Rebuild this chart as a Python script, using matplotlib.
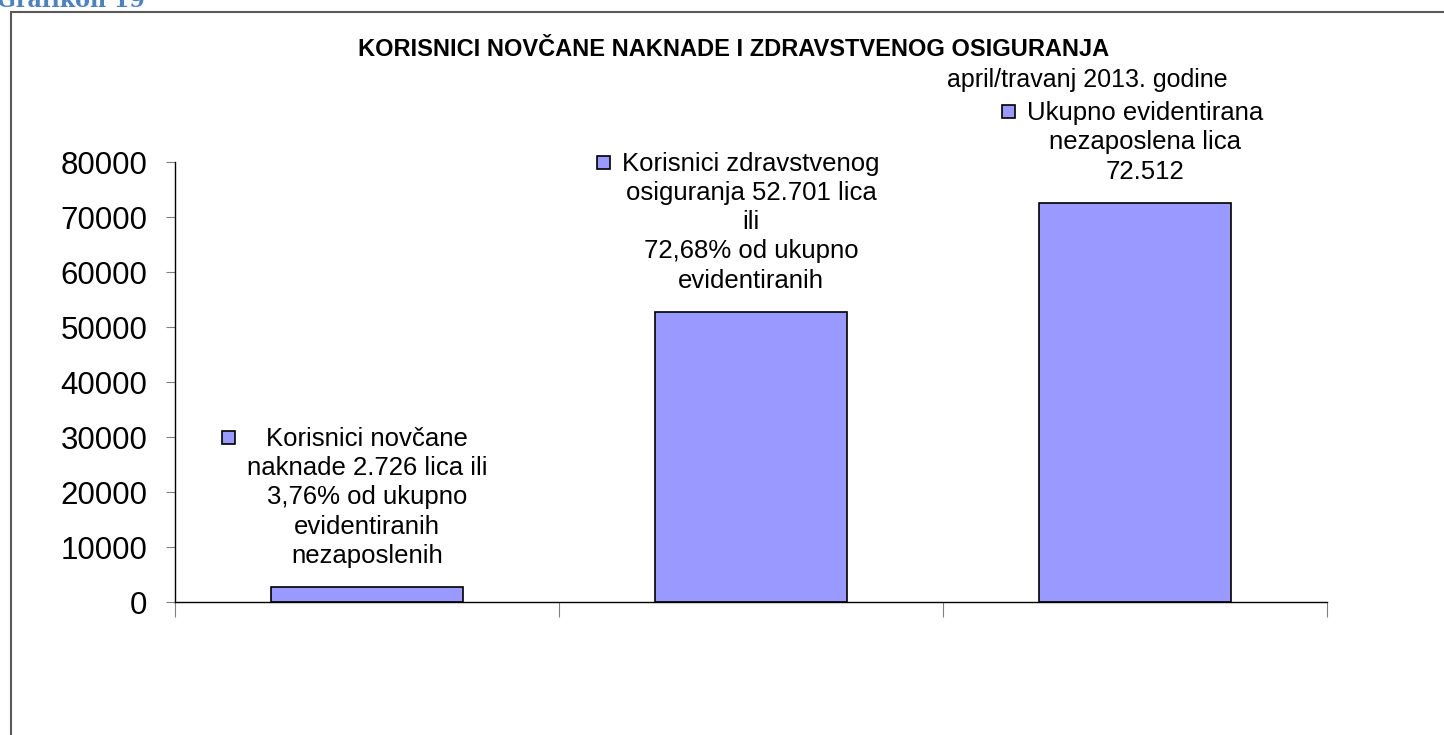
import matplotlib
matplotlib.use("Agg")
import matplotlib.pyplot as plt
from matplotlib.patches import Rectangle

plt.rcParams["font.family"] = ["Liberation Sans", "DejaVu Sans"]

# data
categories = ["Korisnici novčane naknade",
              "Korisnici zdravstvenog osiguranja",
              "Ukupno evidentirana nezaposlena lica"]
values = [2726, 52701, 72512]
bar_labels = ["Korisnici novčane\nnaknade 2.726 lica ili\n3,76% od ukupno\nevidentiranih\nnezaposlenih",
              "Korisnici zdravstvenog\nosiguranja 52.701 lica\nili\n72,68% od ukupno\nevidentiranih",
              "Ukupno evidentirana\nnezaposlena lica\n72.512"]
yticks = [0, 10000, 20000, 30000, 40000, 50000, 60000, 70000, 80000]

bar_color = "#9999FF"

fig = plt.figure(figsize=(14.44, 7.35), dpi=100)
W, H = 1444, 735

# outer frame (runs off the right and bottom edges)
fig.patches.append(Rectangle((10.5 / W, -0.1), 1.2, (H - 12) / H + 0.1,
                             transform=fig.transFigure, fill=False,
                             edgecolor="#595959", linewidth=1.5))
# caption of the document, mostly cut off by the top edge
fig.text(-3 / W, 1 - 7 / H, "Grafikon 19", color="#4F81BD", fontsize=16,
         fontweight="bold", family="DejaVu Serif", va="baseline", ha="left")

ax = fig.add_axes([175 / W, (H - 602.3) / H, (1327 - 175) / W, (602.3 - 162) / H])

x = list(range(len(values)))
ax.bar(x, values, width=0.5, color=bar_color, edgecolor="black", linewidth=1.2)

ax.set_xlim(-0.5, len(values) - 0.5)
ax.set_ylim(0, 80000)
ax.set_yticks(yticks)
ax.set_yticklabels([str(v) for v in yticks], fontsize=22.5)
ax.tick_params(axis="y", direction="out", length=6.5, color="#808080", pad=13.5)
ax.set_xticks([i - 0.5 for i in range(len(values) + 1)])
ax.set_xticklabels([])
ax.tick_params(axis="x", direction="out", length=11, color="#808080")
for s in ["top", "right"]:
    ax.spines[s].set_visible(False)
for s in ["left", "bottom"]:
    ax.spines[s].set_linewidth(1.0)
    ax.spines[s].set_color("black")

# the last label sits a little right of its bar in the original
label_dx = [0, 0, 7]
texts = []
for xi, v, lab, dx in zip(x, values, bar_labels, label_dx):
    t = ax.annotate(lab, xy=(xi, v), xytext=(dx, 14), textcoords="offset points",
                    ha="center", va="bottom", fontsize=18.5, linespacing=1.28,
                    multialignment="center")
    texts.append((t, lab.count("\n") + 1))

fig.text(734 / W, 1 - 56 / H, "KORISNICI NOVČANE NAKNADE I ZDRAVSTVENOG OSIGURANJA",
         ha="center", va="baseline", fontsize=17, fontweight="bold")
fig.text(1087 / W, 1 - 87 / H, "april/travanj 2013. godine",
         ha="center", va="baseline", fontsize=18)

# legend keys in front of each data label
fig.canvas.draw()
renderer = fig.canvas.get_renderer()
sq = 13
for t, n in texts:
    bb = t.get_window_extent(renderer)
    line_h = bb.height / n
    cy = bb.y1 - 0.38 * line_h
    x0 = bb.x0 - 12 - sq
    fig.patches.append(Rectangle((x0 / W, (cy - sq / 2) / H), sq / W, sq / H,
                                 transform=fig.transFigure, facecolor=bar_color,
                                 edgecolor="black", linewidth=1.2))

fig.savefig("out.png", dpi=100)
